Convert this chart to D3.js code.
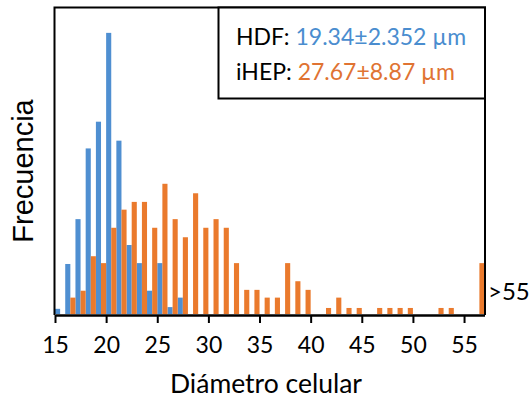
<!DOCTYPE html>
<html>
<head>
<meta charset="utf-8">
<script src="https://cdn.jsdelivr.net/npm/d3@7"></script>
<style>
  body { margin: 0; background: #fff; }
</style>
</head>
<body>
<div id="chart"></div>
<script>
// frequency per 1 µm bin
var hdfBins  = [15, 16, 17, 18, 19, 20, 21, 22, 23, 24, 25, 26, 27];
var hdfFreq  = [0.6, 5.8, 11.0, 19.2, 22.3, 32.6, 20.1, 8.0, 5.9, 2.7, 5.9, 0.8, 1.9];

var ihepBins = [16, 17, 18, 19, 20, 21, 22, 23, 24, 25, 26, 27, 28, 29, 30, 31, 32, 33, 34, 35,
                36, 37, 38, 39, 40, 41, 42, 43, 44, 45, 46, 47, 48, 49, 50, 51, 52, 53, 54, 55, 56];
var ihepFreq = [1.9, 2.7, 6.7, 5.9, 10.0, 12.1, 13.0, 13.0, 10.0, 15.1, 11.0, 8.9, 14.0, 10.0, 11.0, 10.0, 5.9, 2.8, 2.8, 1.9,
                1.9, 5.9, 3.8, 2.8, 0, 0.7, 1.9, 0.7, 0.7, 0, 0.7, 0.7, 0.7, 0.7, 0, 0, 0.7, 0.7, 0, 0, 5.9];

var xTicks = [15, 20, 25, 30, 35, 40, 45, 50, 55];

var blue = "#4f8fd1", orange = "#ea7a2d";

var svg = d3.select("#chart")
        .append("svg")
        .attr("width", 529)
        .attr("height", 399);

var x = d3.scaleLinear().domain([15, 57]).range([55, 484.5]);
var y = d3.scaleLinear().domain([0, 35.6]).range([314, 7]);

// bars: blue in first half of bin, orange in second half
svg.append("g").selectAll("rect")
        .data(hdfBins)
        .enter().append("rect")
        .attr("x", function (d) { return x(d); })
        .attr("width", function (d) { return x(d + 0.5) - x(d); })
        .attr("y", function (d, i) { return y(hdfFreq[i]); })
        .attr("height", function (d, i) { return y(0) - y(hdfFreq[i]); })
        .attr("fill", blue);

svg.append("g").selectAll("rect")
        .data(ihepBins)
        .enter().append("rect")
        .attr("x", function (d) { return x(d + 0.5); })
        .attr("width", function (d) { return x(d + 1) - x(d + 0.5); })
        .attr("y", function (d, i) { return y(ihepFreq[i]); })
        .attr("height", function (d, i) { return y(0) - y(ihepFreq[i]); })
        .attr("fill", orange);

// frame
svg.append("path")
        .attr("d", "M54.5,315 V7.5 H485 V315")
        .attr("fill", "none")
        .attr("stroke", "#000")
        .attr("stroke-width", 2);

var xAxis = svg.append("g")
        .attr("transform", "translate(0,315)")
        .call(d3.axisBottom(x).tickValues(xTicks).tickSize(8).tickSizeOuter(0).tickPadding(14));
xAxis.select(".domain").attr("stroke", "#000").attr("stroke-width", 2.5);
xAxis.selectAll(".tick line").attr("stroke", "#000").attr("stroke-width", 2);
xAxis.selectAll(".tick text")
        .attr("fill", "#000")
        .attr("font-family", "Lato, sans-serif")
        .attr("font-size", "23px");

svg.append("text")
        .attr("x", 488)
        .attr("y", 300)
        .attr("fill", "#000")
        .attr("font-family", "Lato, sans-serif")
        .attr("font-size", "24px")
        .text(">55");

svg.append("text")
        .attr("x", 266)
        .attr("y", 393)
        .attr("text-anchor", "middle")
        .attr("fill", "#000")
        .attr("font-family", "Lato, sans-serif")
        .attr("font-size", "26.5px")
        .text("Diámetro celular");

svg.append("text")
        .attr("transform", "translate(33,171) rotate(-90)")
        .attr("text-anchor", "middle")
        .attr("fill", "#000")
        .attr("font-family", "'Liberation Sans', Arial, sans-serif")
        .attr("font-size", "29px")
        .text("Frecuencia");

// legend box
svg.append("rect")
        .attr("x", 218.5)
        .attr("y", 7.5)
        .attr("width", 266.5)
        .attr("height", 91)
        .attr("fill", "#fff")
        .attr("stroke", "#000")
        .attr("stroke-width", 2);

var legend = [
    { name: "HDF: ", value: "19.34±2.352 µm", color: "#4a8dcf", y: 45 },
    { name: "iHEP: ", value: "27.67±8.87 µm", color: "#e07332", y: 80 }
];

legend.forEach(function (l) {
    var t = svg.append("text")
            .attr("x", 236)
            .attr("y", l.y)
            .attr("font-family", "Lato, sans-serif")
            .attr("font-size", "23px");
    t.append("tspan").attr("fill", "#000").text(l.name);
    t.append("tspan").attr("fill", l.color).text(l.value);
});
</script>
</body>
</html>
